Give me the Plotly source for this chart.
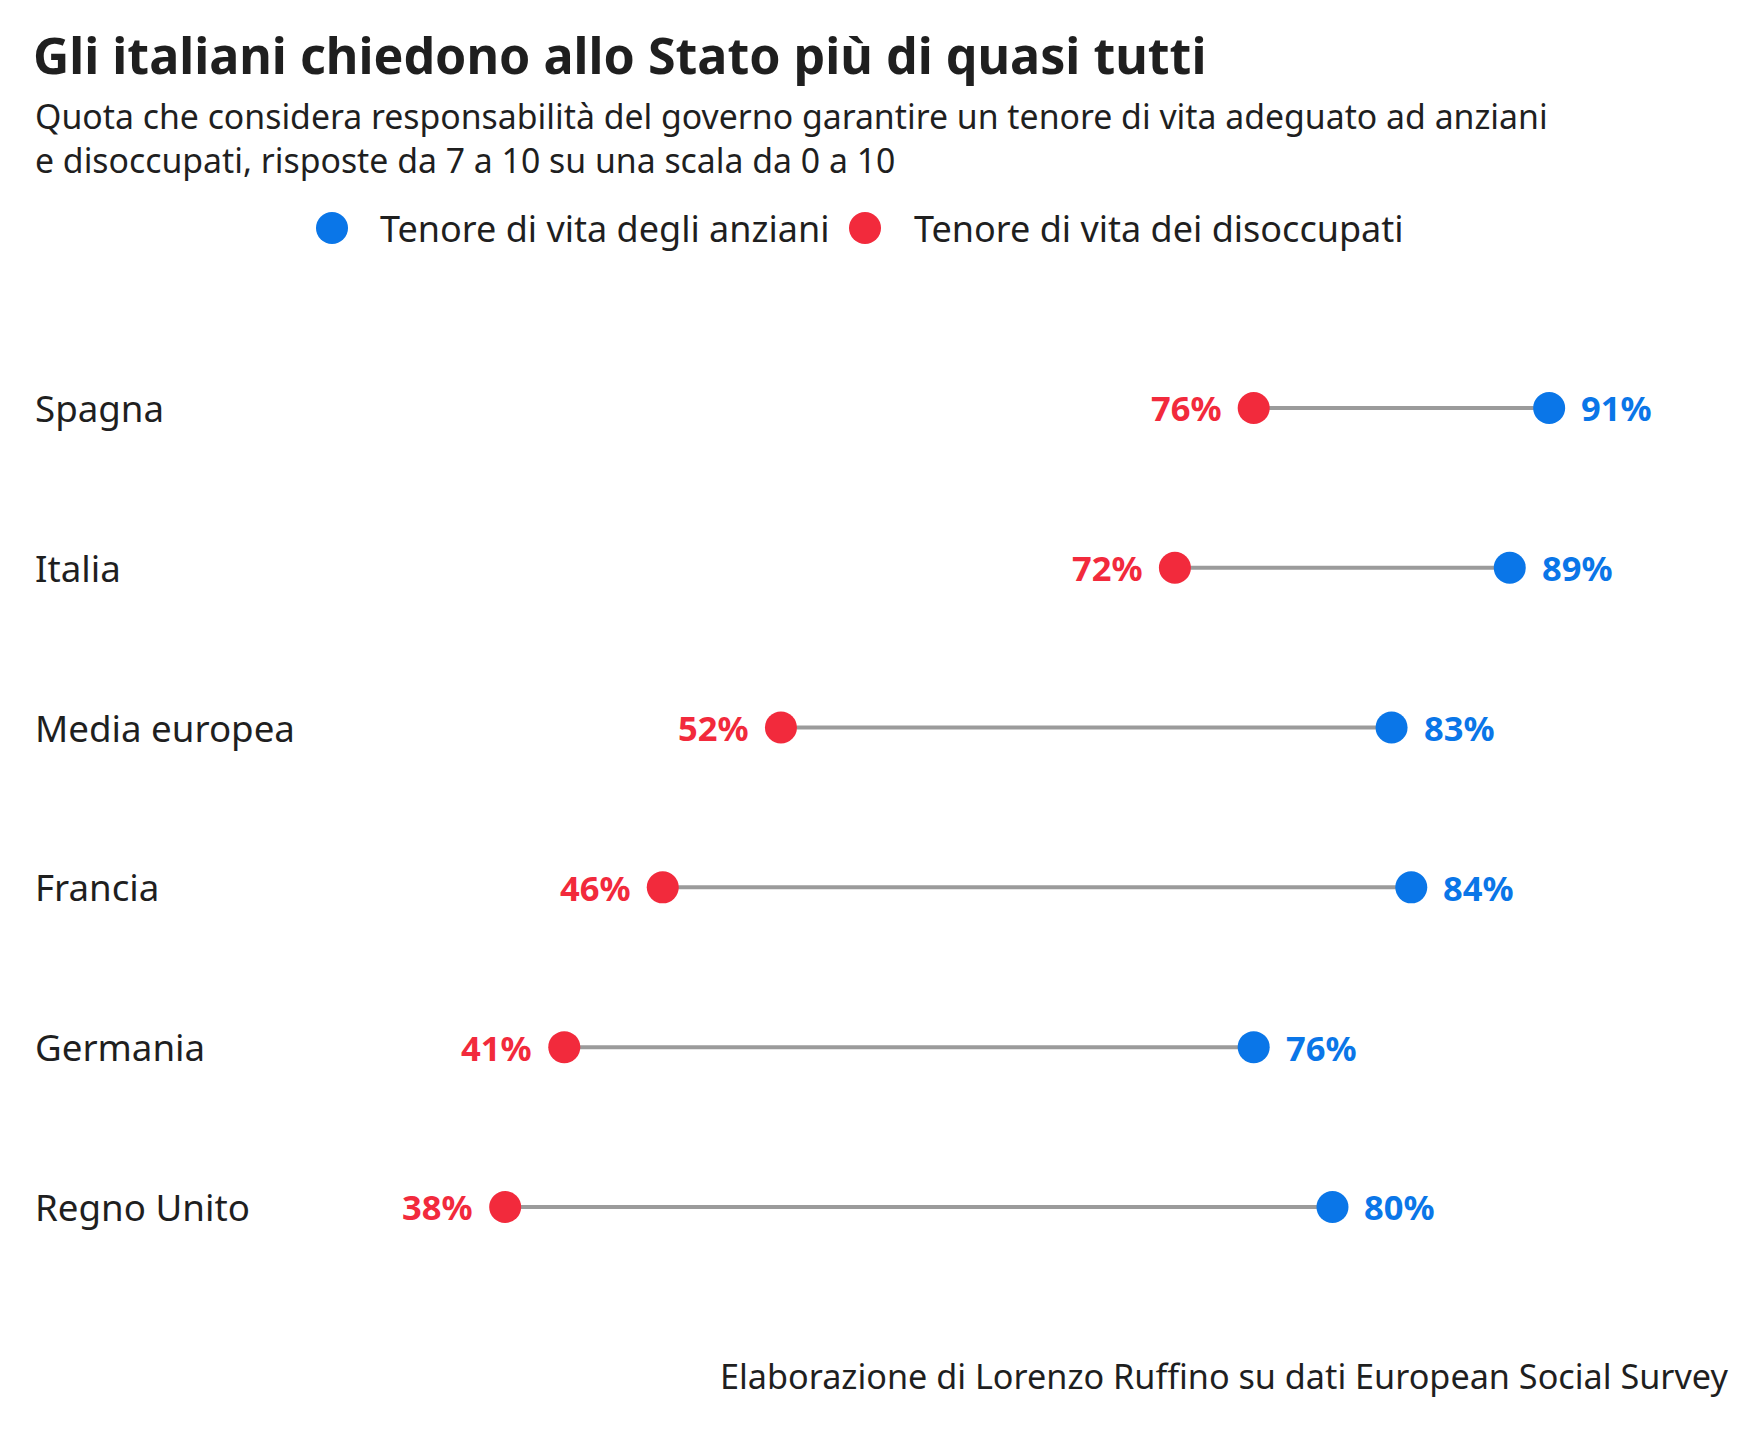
import plotly.graph_objects as go

# * data
countries = ["Spagna", "Italia", "Media europea", "Francia", "Germania", "Regno Unito"]
anziani = [91, 89, 83, 84, 76, 80]
disoccupati = [76, 72, 52, 46, 41, 38]
series_names = ["Tenore di vita degli anziani", "Tenore di vita dei disoccupati"]

BLUE = "#0a76e8"
RED = "#f22a3c"
GREY = "#9b9b9b"
INK = "#1f1f1f"
FONT = "Noto Sans"

W, H = 1760, 1430
OFF_X, OFF_Y = 11, 8  # * page body margin, compensated below
rows = list(range(len(countries)))


def px_x(p):
    return (p - OFF_X) / W


def px_y(p):
    return 1 - (p - OFF_Y) / H


fig = go.Figure()

# * connecting lines
for i in rows:
    fig.add_trace(
        go.Scatter(
            x=[disoccupati[i], anziani[i]],
            y=[i, i],
            mode="lines",
            line=dict(color=GREY, width=4),
            hoverinfo="skip",
            showlegend=False,
        )
    )

# * dots + value labels
fig.add_trace(
    go.Scatter(
        x=anziani, y=rows, mode="markers", name=series_names[0],
        marker=dict(color=BLUE, size=32), showlegend=False,
    )
)
fig.add_trace(
    go.Scatter(
        x=disoccupati, y=rows, mode="markers", name=series_names[1],
        marker=dict(color=RED, size=32), showlegend=False,
    )
)

for i in rows:
    fig.add_annotation(
        x=anziani[i], y=i, text=f"<b>{anziani[i]}%</b>", showarrow=False,
        xanchor="left", xshift=30, font=dict(size=34.5, color=BLUE, family=FONT),
    )
    fig.add_annotation(
        x=disoccupati[i], y=i, text=f"<b>{disoccupati[i]}%</b>", showarrow=False,
        xanchor="right", xshift=-30, font=dict(size=34.5, color=RED, family=FONT),
    )
    # * country names on the left
    fig.add_annotation(
        x=px_x(36), xref="paper", y=i, yref="y", text=countries[i], showarrow=False,
        xanchor="left", font=dict(size=36.7, color=INK, family=FONT),
    )

# * manual legend (bigger dots than plotly's legend allows)
leg_y = px_y(228)
for cx, tx, name, col in [(335, 381, series_names[0], BLUE), (868, 915, series_names[1], RED)]:
    fig.add_shape(
        type="circle", xref="paper", yref="paper", xsizemode="pixel", ysizemode="pixel",
        xanchor=px_x(cx), yanchor=leg_y, x0=-16, x1=16, y0=-16, y1=16,
        fillcolor=col, line=dict(width=0),
    )
    fig.add_annotation(
        x=px_x(tx), y=leg_y, xref="paper", yref="paper", text=name, showarrow=False,
        xanchor="left", yanchor="middle", font=dict(size=36, color=INK, family=FONT),
    )

# * subtitle + footer
fig.add_annotation(
    x=px_x(36), y=px_y(138.5), xref="paper", yref="paper", showarrow=False,
    xanchor="left", yanchor="middle", align="left",
    text="Quota che considera responsabilità del governo garantire un tenore di vita adeguato ad anziani<br>"
         "e disoccupati, risposte da 7 a 10 su una scala da 0 a 10",
    font=dict(size=33.8, color=INK, family=FONT),
)
fig.add_annotation(
    x=px_x(1733), y=px_y(1375), xref="paper", yref="paper", showarrow=False,
    xanchor="right", yanchor="middle",
    text="Elaborazione di Lorenzo Ruffino su dati European Social Survey",
    font=dict(size=34.2, color=INK, family=FONT),
)

fig.update_layout(
    width=W, height=H,
    margin=dict(l=0, r=0, t=0, b=0),
    paper_bgcolor="white", plot_bgcolor="white",
    showlegend=False,
    title=dict(
        text="<b>Gli italiani chiedono allo Stato più di quasi tutti</b>",
        x=px_x(36), xanchor="left", y=px_y(56), yanchor="middle",
        font=dict(size=50.2, color=INK, family=FONT),
    ),
    font=dict(family=FONT, color=INK),
)
# * scale: 38% sits at x=508px, ~19.7px per point (page offset included)
fig.update_xaxes(range=[12.76, 102.11], visible=False, fixedrange=True)
fig.update_yaxes(range=[6.446, -2.503], visible=False, fixedrange=True)

fig.write_html("out.html")
